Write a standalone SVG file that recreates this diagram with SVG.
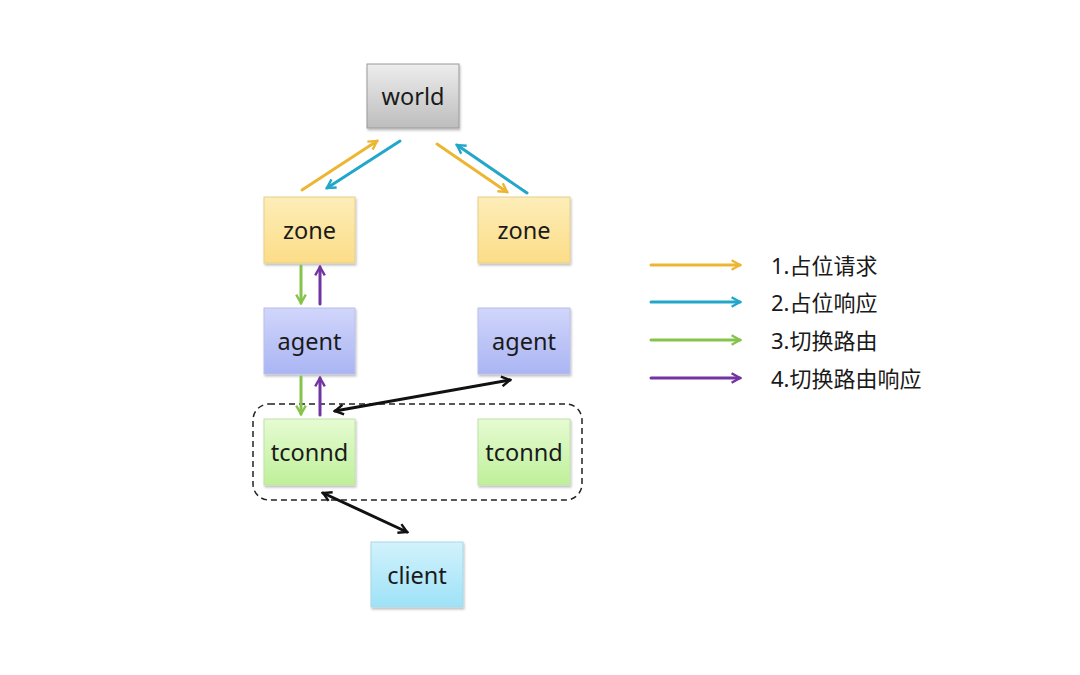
<svg xmlns="http://www.w3.org/2000/svg" width="1080" height="675" viewBox="0 0 1080 675">
<style>
.lbl{font-family:"Noto Sans","Open Sans","Liberation Sans",sans-serif;font-size:23.5px;fill:#1a1a1a;text-anchor:middle;dominant-baseline:central}
.leg{font-family:"Noto Sans","Noto Sans CJK SC",sans-serif;font-size:22px;fill:#1a1a1a;dominant-baseline:central}
.box{stroke-width:1;filter:url(#sh)}
.c{fill:none;stroke-width:3;stroke-linecap:round}
</style>
<defs>
<filter id="sh" x="-10%" y="-10%" width="125%" height="130%"><feDropShadow dx="1" dy="2" stdDeviation="1.2" flood-color="#000" flood-opacity="0.25"/></filter>
<linearGradient id="gw" x1="0" y1="0" x2="0" y2="1"><stop offset="0" stop-color="#ededed"/><stop offset="1" stop-color="#bdbdbd"/></linearGradient>
<linearGradient id="gz" x1="0" y1="0" x2="0" y2="1"><stop offset="0" stop-color="#fdedb8"/><stop offset="1" stop-color="#fcdd88"/></linearGradient>
<linearGradient id="ga" x1="0" y1="0" x2="0" y2="1"><stop offset="0" stop-color="#d1d6fb"/><stop offset="1" stop-color="#aab5f3"/></linearGradient>
<linearGradient id="gt" x1="0" y1="0" x2="0" y2="1"><stop offset="0" stop-color="#e6fbd2"/><stop offset="1" stop-color="#bff09a"/></linearGradient>
<linearGradient id="gc" x1="0" y1="0" x2="0" y2="1"><stop offset="0" stop-color="#d2f2fc"/><stop offset="1" stop-color="#9ee2f7"/></linearGradient>
<marker id="mY" viewBox="0 0 10 10" refX="8" refY="5" markerWidth="4" markerHeight="4" orient="auto-start-reverse"><path d="M1,1 L8,5 L1,9" fill="none" stroke="#EDB632" stroke-width="2"/></marker>
<marker id="mB" viewBox="0 0 10 10" refX="8" refY="5" markerWidth="4" markerHeight="4" orient="auto-start-reverse"><path d="M1,1 L8,5 L1,9" fill="none" stroke="#22A7CB" stroke-width="2"/></marker>
<marker id="mG" viewBox="0 0 10 10" refX="8" refY="5" markerWidth="4" markerHeight="4" orient="auto-start-reverse"><path d="M1,1 L8,5 L1,9" fill="none" stroke="#86C34B" stroke-width="2"/></marker>
<marker id="mP" viewBox="0 0 10 10" refX="8" refY="5" markerWidth="4" markerHeight="4" orient="auto-start-reverse"><path d="M1,1 L8,5 L1,9" fill="none" stroke="#7134A0" stroke-width="2"/></marker>
<marker id="mK" viewBox="0 0 10 10" refX="8" refY="5" markerWidth="4" markerHeight="4" orient="auto-start-reverse"><path d="M1,1 L8,5 L1,9" fill="none" stroke="#111" stroke-width="2"/></marker>
</defs>
<rect width="1080" height="675" fill="#fff"/>

<g id="group-tconnd">
<rect x="253" y="404" width="329" height="96" rx="16" fill="none" stroke="#222" stroke-width="1.5" stroke-dasharray="6,4"/>
</g>

<g id="world"><rect class="box" x="367" y="64" width="92" height="64" fill="url(#gw)" stroke="#9a9a9a"/><text class="lbl" x="413" y="96">world</text></g>
<g id="zone1"><rect class="box" x="264" y="197" width="91" height="66" fill="url(#gz)" stroke="#e5cf8c"/><text class="lbl" x="309.5" y="230">zone</text></g>
<g id="zone2"><rect class="box" x="478" y="197" width="92" height="66" fill="url(#gz)" stroke="#e5cf8c"/><text class="lbl" x="524" y="230">zone</text></g>
<g id="agent1"><rect class="box" x="264" y="308" width="91" height="66" fill="url(#ga)" stroke="#b8c0ea"/><text class="lbl" x="309.5" y="341">agent</text></g>
<g id="agent2"><rect class="box" x="478" y="308" width="92" height="66" fill="url(#ga)" stroke="#b8c0ea"/><text class="lbl" x="524" y="341">agent</text></g>
<g id="tconnd1"><rect class="box" x="264" y="419" width="91" height="66" fill="url(#gt)" stroke="#c2e2a8"/><text class="lbl" x="309.5" y="452">tconnd</text></g>
<g id="tconnd2"><rect class="box" x="478" y="419" width="92" height="66" fill="url(#gt)" stroke="#c2e2a8"/><text class="lbl" x="524" y="452">tconnd</text></g>
<g id="client"><rect class="box" x="371" y="542" width="92" height="65" fill="url(#gc)" stroke="#a8d8e8"/><text class="lbl" x="417" y="575">client</text></g>

<g id="connectors">
<line class="c" x1="302" y1="190" x2="377" y2="141" stroke="#EDB632" marker-end="url(#mY)"/>
<line class="c" x1="400" y1="141" x2="327" y2="188" stroke="#22A7CB" marker-end="url(#mB)"/>
<line class="c" x1="437" y1="144" x2="507" y2="192" stroke="#EDB632" marker-end="url(#mY)"/>
<line class="c" x1="527" y1="193" x2="457" y2="145" stroke="#22A7CB" marker-end="url(#mB)"/>
<line class="c" x1="301" y1="266" x2="301" y2="303" stroke="#86C34B" marker-end="url(#mG)"/>
<line class="c" x1="320" y1="304" x2="320" y2="267" stroke="#7134A0" marker-end="url(#mP)"/>
<line class="c" x1="301" y1="377" x2="301" y2="414" stroke="#86C34B" marker-end="url(#mG)"/>
<line class="c" x1="320" y1="415" x2="320" y2="378" stroke="#7134A0" marker-end="url(#mP)"/>
<line class="c" x1="335" y1="411" x2="510" y2="380" stroke="#111" marker-start="url(#mK)" marker-end="url(#mK)"/>
<line class="c" x1="323" y1="493" x2="407" y2="532" stroke="#111" marker-start="url(#mK)" marker-end="url(#mK)"/>
</g>

<g id="legend">
<line class="c" x1="651" y1="265" x2="740" y2="265" stroke="#EDB632" marker-end="url(#mY)"/>
<line class="c" x1="651" y1="302" x2="740" y2="302" stroke="#22A7CB" marker-end="url(#mB)"/>
<line class="c" x1="651" y1="340" x2="740" y2="340" stroke="#86C34B" marker-end="url(#mG)"/>
<line class="c" x1="651" y1="378" x2="740" y2="378" stroke="#7134A0" marker-end="url(#mP)"/>
<text class="leg" x="771" y="265">1.占位请求</text>
<text class="leg" x="771" y="302">2.占位响应</text>
<text class="leg" x="771" y="340">3.切换路由</text>
<text class="leg" x="771" y="378">4.切换路由响应</text>
</g>
</svg>
